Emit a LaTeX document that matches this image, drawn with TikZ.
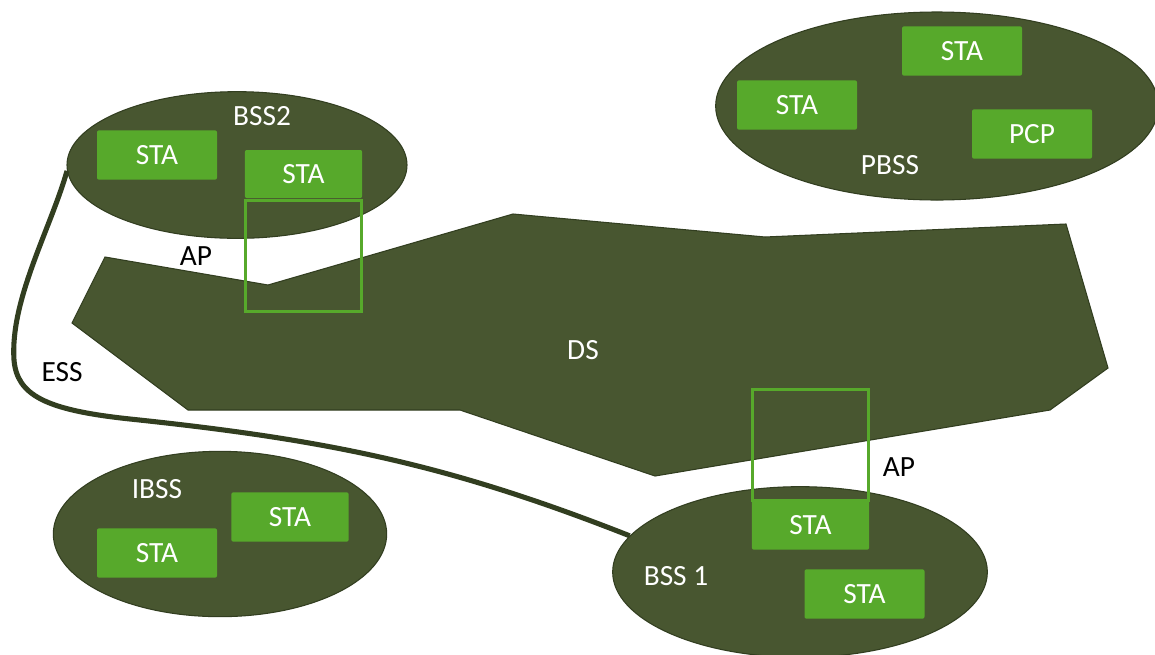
\documentclass[tikz,border=0pt]{standalone}
\usepackage{fontspec}
\setmainfont{Carlito}
\usetikzlibrary{shapes.geometric}
\definecolor{olive}{RGB}{72,86,48}
\definecolor{oliveline}{RGB}{50,62,32}
\definecolor{stagreen}{RGB}{87,169,43}

\begin{document}
\begin{tikzpicture}[x=0.75pt,y=-0.75pt,inner sep=0pt,font=\fontsize{22}{26}\selectfont,
	area/.style={ellipse,draw=oliveline,line width=0.8pt,fill=olive},
	sta/.style={rectangle,fill=stagreen,rounded corners=1.5pt,text=white,minimum width=90pt,minimum height=37pt},
	apbox/.style={rectangle,draw=stagreen,line width=2.3pt,minimum width=87pt,minimum height=83pt},
	lbl/.style={text=white},
	blk/.style={text=black}]
	
	\clip (0,0) rectangle (1155,654);
	\fill[white] (0,0) rectangle (1155,654);
	
	\node at (937,106) [area,minimum width=332pt,minimum height=141pt] (pbss) {};
	\node at (237,165) [area,minimum width=255pt,minimum height=110pt] (bss2) {};
	\node at (220,534) [area,minimum width=250pt,minimum height=124pt] (ibss) {};
	\node at (800,572) [area,minimum width=281pt,minimum height=128pt] (bss1) {};
	
	\draw[oliveline,line width=3.8pt] (bss2.182) .. controls (50,230) and (10,300) .. (14,360)
		.. controls (17,395) and (45,410) .. (130,419)
		.. controls (330,440) and (450,465) .. (bss1.168);
	
	\filldraw[fill=olive,draw=oliveline,line width=0.8pt] (105,257) -- (268,285) -- (513,214) -- (765,237) -- (1066,224)
		-- (1108,368) -- (1050,410) -- (655,476) -- (460,410) -- (188,410) -- (72,323) -- cycle;
	
	\node at (962,51) [sta] (s1) {STA};
	\node at (797,105) [sta] (s2) {STA};
	\node at (1032,134) [sta] (pcp) {PCP};
	\node at (890,165) [lbl] (tpbss) {PBSS};
	
	\node at (157,155) [sta] (s3) {STA};
	\node at (303.5,174) [sta,minimum width=88pt,minimum height=36pt] (s4) {STA};
	\node at (303.5,256) [apbox] (ap2) {};
	\node at (262,116) [lbl] (tbss2) {BSS2};
	\node at (196,256) [blk] (tap2) {AP};
	
	\node at (157,553) [sta] (s5) {STA};
	\node at (290,517) [sta,minimum width=88pt] (s6) {STA};
	\node at (157,489) [lbl] (tibss) {IBSS};
	
	\node at (810.5,525) [sta,minimum width=88pt] (s7) {STA};
	\node at (810.5,445) [apbox] (ap1) {};
	\node at (864.5,594) [sta] (s8) {STA};
	\node at (676,576) [lbl] (tbss1) {BSS 1};
	\node at (899,467) [blk] (tap1) {AP};
	
	\node at (583,350) [lbl] (tds) {DS};
	\node at (62,372) [blk] (tess) {ESS};
	
\end{tikzpicture}
\end{document}
